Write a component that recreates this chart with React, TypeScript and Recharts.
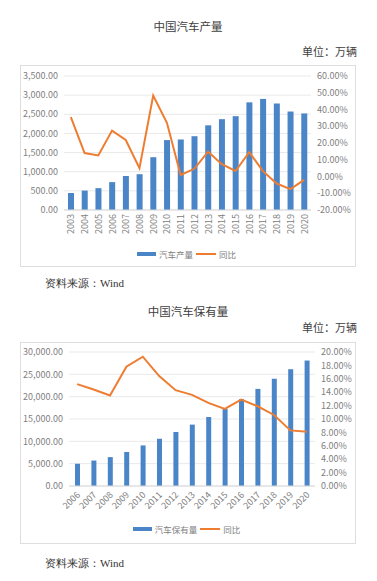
import React from 'react'
import { ComposedChart, Bar, Line, XAxis, YAxis, CartesianGrid, Legend } from 'recharts'

/* ── 中国汽车产量 (万辆) ── */
const prodYears = ['2003', '2004', '2005', '2006', '2007', '2008', '2009', '2010', '2011', '2012', '2013', '2014', '2015', '2016', '2017', '2018', '2019', '2020']
const prodVolume = [444.4, 507.1, 570.5, 727.9, 888.2, 934.5, 1379.1, 1826.5, 1841.9, 1927.2, 2211.7, 2372.5, 2450.3, 2811.9, 2901.5, 2780.9, 2572.1, 2522.5]
const prodYoY = [35.5, 14.0, 12.6, 27.4, 21.8, 5.0, 48.3, 32.1, 0.9, 4.6, 14.8, 7.3, 3.3, 14.5, 3.2, -4.2, -7.5, -2.0]
const prodLeftTicks = [0, 500, 1000, 1500, 2000, 2500, 3000, 3500]
const prodRightTicks = [-20, -10, 0, 10, 20, 30, 40, 50, 60]

/* ── 中国汽车保有量 (万辆) ── */
const stockYears = ['2006', '2007', '2008', '2009', '2010', '2011', '2012', '2013', '2014', '2015', '2016', '2017', '2018', '2019', '2020']
const stockVolume = [4985, 5697, 6467, 7619, 9086, 10578, 12089, 13741, 15447, 17228, 19440, 21743, 24028, 26150, 28087]
const stockYoY = [15.2, 14.4, 13.5, 17.8, 19.3, 16.4, 14.3, 13.6, 12.4, 11.5, 12.9, 11.9, 10.6, 8.3, 8.1]
const stockLeftTicks = [0, 5000, 10000, 15000, 20000, 25000, 30000]
const stockRightTicks = [0, 2, 4, 6, 8, 10, 12, 14, 16, 18, 20]

const BLUE = '#4a85c7'
const ORANGE = '#ee7d31'
const GRAY = '#808080'
const FONT = '"Noto Sans CJK SC", "Noto Sans", sans-serif'

const prodData = prodYears.map((y, i) => ({ year: y, volume: prodVolume[i], yoy: prodYoY[i] }))
const stockData = stockYears.map((y, i) => ({ year: y, volume: stockVolume[i], yoy: stockYoY[i] }))

const fmtNum = (v: number) => v.toLocaleString('en-US', { minimumFractionDigits: 2, maximumFractionDigits: 2 })
const fmtPct = (v: number) => `${v.toFixed(2)}%`

const tickStyle = { fontSize: 9, fill: GRAY, fontFamily: FONT }

// vertical year labels (chart 1)
const VerticalTick = (props: any) => {
  const { x, y, payload } = props
  const ty = y + 1
  return (
    <text x={x} y={ty} transform={`rotate(-90 ${x} ${ty})`} textAnchor="end" dominantBaseline="central"
      fontSize={9} fill={GRAY} fontFamily={FONT}>{payload.value}</text>
  )
}

// slanted year labels (chart 2)
const SlantTick = (props: any) => {
  const { x, y, payload } = props
  const tx = x + 1
  const ty = y + 4
  return (
    <text x={tx} y={ty} transform={`rotate(-45 ${tx} ${ty})`} textAnchor="end" dominantBaseline="central"
      fontSize={9} fill={GRAY} fontFamily={FONT}>{payload.value}</text>
  )
}

const LegendContent = (props: any) => {
  // bars first, then the line, like the original
  const items = [...(props.payload || [])].sort((a: any, b: any) => (a.type === 'line' ? 1 : 0) - (b.type === 'line' ? 1 : 0))
  return (
    <div style={{ display: 'flex', justifyContent: 'center', alignItems: 'center', fontSize: 8.5, color: GRAY, fontFamily: FONT, lineHeight: '10px' }}>
      {items.map((p: any) => (
        <span key={p.value} style={{ display: 'flex', alignItems: 'center', marginRight: 3 }}>
          {p.type === 'line'
            ? <span style={{ display: 'inline-block', width: 20, height: 2, background: p.color, marginRight: 3 }} />
            : <span style={{ display: 'inline-block', width: 19, height: 4, background: p.color, marginRight: 3 }} />}
          {p.value}
        </span>
      ))}
    </div>
  )
}

const Title = ({ text, top }: { text: string; top: number }) => (
  <div style={{ position: 'absolute', left: 20, width: 336, top, textAlign: 'center', fontSize: 11.5, color: '#404040', fontFamily: FONT, lineHeight: '14px' }}>{text}</div>
)
const Unit = ({ top }: { top: number }) => (
  <div style={{ position: 'absolute', right: 20, top, fontSize: 11, color: '#404040', fontFamily: FONT, lineHeight: '14px' }}>单位：万辆</div>
)
const Source = ({ top }: { top: number }) => (
  <div style={{ position: 'absolute', left: 45, top, fontSize: 11, color: '#333', fontFamily: '"Liberation Serif", "DejaVu Serif", serif', lineHeight: '14px' }}>资料来源：Wind</div>
)

export default function App() {
  return (
    <div style={{ position: 'absolute', left: 0, top: 0, width: 377, height: 581, background: '#fff', overflow: 'hidden' }}>
      {/* ── Chart 1 ── */}
      <Title text="中国汽车产量" top={19} />
      <Unit top={44} />
      <div style={{ position: 'absolute', left: 20, top: 65, width: 336, height: 202, border: '1px solid #dedede', boxSizing: 'border-box' }} />
      <div style={{ position: 'absolute', left: 20, top: 65 }}>
        <ComposedChart width={336} height={202} data={prodData} margin={{ top: 11, right: 0, bottom: 0, left: 0 }} barSize={6}>
          <CartesianGrid vertical={false} stroke="#e9e9e9" yAxisId="left" />
          <XAxis dataKey="year" interval={0} height={57} tickLine={false} tickSize={3} tickMargin={0}
            axisLine={{ stroke: '#d9d9d9' }} tick={<VerticalTick />} />
          <YAxis yAxisId="left" domain={[0, 3500]} ticks={prodLeftTicks} width={44} axisLine={false} tickLine={false}
            tickSize={4} tickMargin={2} tick={tickStyle} tickFormatter={fmtNum} interval={0} />
          <YAxis yAxisId="right" orientation="right" domain={[-20, 60]} ticks={prodRightTicks} width={45} axisLine={false}
            tickLine={false} tickSize={4} tickMargin={2} tick={tickStyle} tickFormatter={fmtPct} interval={0} />
          <Bar yAxisId="left" dataKey="volume" name="汽车产量" fill={BLUE} isAnimationActive={false} legendType="rect" />
          <Line yAxisId="right" type="linear" dataKey="yoy" name="同比" stroke={ORANGE} strokeWidth={2} dot={false}
            isAnimationActive={false} legendType="line" />
          <Legend verticalAlign="middle" layout="horizontal" align="center" content={<LegendContent />}
            wrapperStyle={{ top: 184, left: 0, width: 336 }} />
        </ComposedChart>
      </div>
      <Source top={276} />

      {/* ── Chart 2 ── */}
      <Title text="中国汽车保有量" top={304} />
      <Unit top={320} />
      <div style={{ position: 'absolute', left: 20, top: 342, width: 336, height: 202, border: '1px solid #dedede', boxSizing: 'border-box' }} />
      <div style={{ position: 'absolute', left: 20, top: 342 }}>
        <ComposedChart width={336} height={202} data={stockData} margin={{ top: 10, right: 0, bottom: 0, left: 0 }} barSize={5}>
          <CartesianGrid vertical={false} stroke="#e9e9e9" yAxisId="left" />
          <XAxis dataKey="year" interval={0} height={58} tickLine={false} tickSize={3} tickMargin={0}
            axisLine={{ stroke: '#d9d9d9' }} tick={<SlantTick />} />
          <YAxis yAxisId="left" domain={[0, 30000]} ticks={stockLeftTicks} width={49} axisLine={false} tickLine={false}
            tickSize={4} tickMargin={2} tick={tickStyle} tickFormatter={fmtNum} interval={0} />
          <YAxis yAxisId="right" orientation="right" domain={[0, 20]} ticks={stockRightTicks} width={41} axisLine={false}
            tickLine={false} tickSize={4} tickMargin={2} tick={tickStyle} tickFormatter={fmtPct} interval={0} />
          <Bar yAxisId="left" dataKey="volume" name="汽车保有量" fill={BLUE} isAnimationActive={false} legendType="rect" />
          <Line yAxisId="right" type="linear" dataKey="yoy" name="同比" stroke={ORANGE} strokeWidth={2} dot={false}
            isAnimationActive={false} legendType="line" />
          <Legend verticalAlign="middle" layout="horizontal" align="center" content={<LegendContent />}
            wrapperStyle={{ top: 182, left: 0, width: 336 }} />
        </ComposedChart>
      </div>
      <Source top={556} />
    </div>
  )
}
